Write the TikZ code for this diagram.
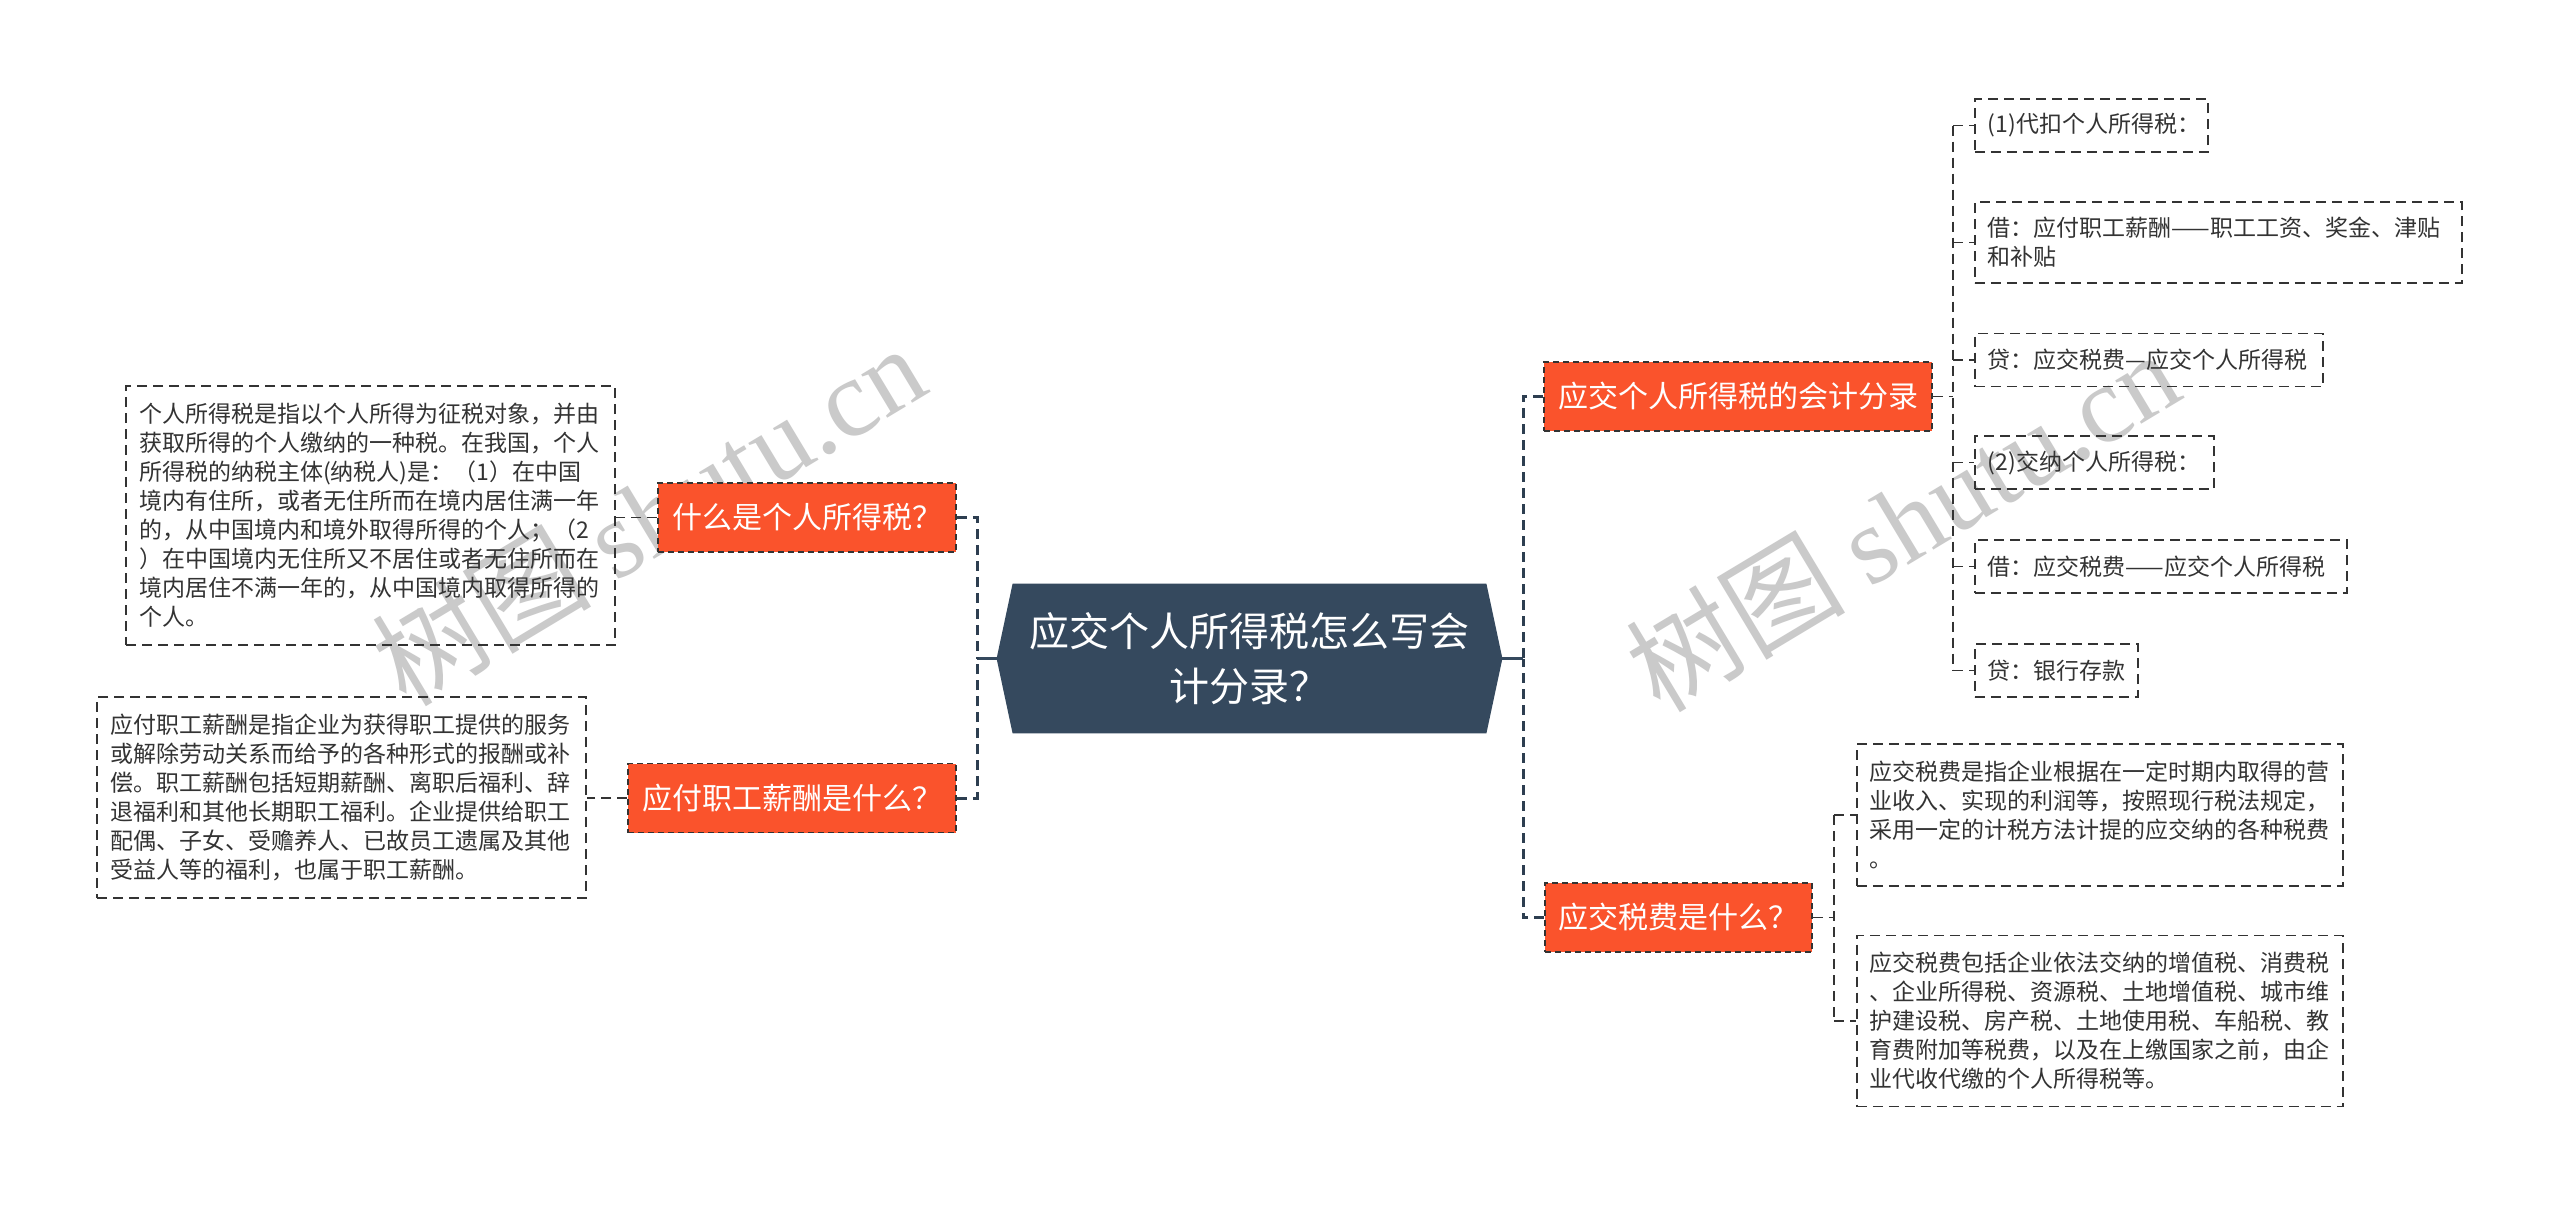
\documentclass[tikz,border=0pt]{standalone}
\usepackage{fontspec}
\setmainfont{Noto Sans CJK SC}
\newfontfamily\wmlatin{Liberation Serif}
\usetikzlibrary{backgrounds}
\definecolor{slate}{RGB}{53,73,94}
\definecolor{orangebox}{RGB}{250,83,44}
\definecolor{ink}{RGB}{51,51,51}
\definecolor{wmgray}{RGB}{202,202,202}
\begin{document}
\begin{tikzpicture}[x=0.5pt,y=-0.5pt,
  leaf/.style={draw=ink, line width=0.9pt, dash pattern=on 5pt off 3pt, text=ink,
    font=\fontsize{11.5pt}{14.5pt}\selectfont, align=left, inner xsep=6.5pt, inner ysep=0pt},
  topic/.style={fill=orangebox, draw=ink, line width=0.9pt, dash pattern=on 3pt off 2pt,
    text=white, font=\fontsize{15pt}{18pt}\selectfont, inner sep=0pt, minimum height=34.5pt},
  rootnode/.style={text=white, font=\fontsize{20pt}{27.5pt}\selectfont, align=center,
    inner sep=0pt, minimum width=252.5pt, minimum height=74.5pt},
  mainline/.style={draw=slate, line width=1.5pt},
  mainbr/.style={draw=slate!85!black, line width=1.5pt, dash pattern=on 5pt off 3pt},
  leafbr/.style={draw=ink, line width=0.9pt, dash pattern=on 5pt off 3pt},
  wmark/.style={text=wmgray, font=\fontsize{55pt}{62pt}\selectfont, rotate=31, inner sep=0pt}
]
\useasboundingbox (0,0) rectangle (2560,1207);

% root
\node[rootnode] (root) at (1249.5,658.5) {应交个人所得税怎么写会\\计分录？};

% level 1
\node[topic, minimum width=149pt] (N1) at (807,517.5) {什么是个人所得税？};
\node[topic, minimum width=164pt] (N2) at (792,798) {应付职工薪酬是什么？};
\node[topic, minimum width=194pt] (NA) at (1738,396.5) {应交个人所得税的会计分录};
\node[topic, minimum width=133.5pt] (NB) at (1678.5,917.5) {应交税费是什么？};

% left leaves
\node[leaf, anchor=east, text width=231.5pt, minimum height=129.5pt] (L1) at (616,515.5)
{个人所得税是指以个人所得为征税对象，并由\\获取所得的个人缴纳的一种税。在我国，个人\\所得税的纳税主体(纳税人)是：（1）在中国\\境内有住所，或者无住所而在境内居住满一年\\的，从中国境内和境外取得所得的个人；（2\\）在中国境内无住所又不居住或者无住所而在\\境内居住不满一年的，从中国境内取得所得的\\个人。};
\node[leaf, anchor=east, text width=231.5pt, minimum height=100.5pt] (L2) at (587,797.5)
{应付职工薪酬是指企业为获得职工提供的服务\\或解除劳动关系而给予的各种形式的报酬或补\\偿。职工薪酬包括短期薪酬、离职后福利、辞\\退福利和其他长期职工福利。企业提供给职工\\配偶、子女、受赡养人、已故员工遗属及其他\\受益人等的福利，也属于职工薪酬。};

% right leaves of NA
\node[leaf, anchor=west, text width=103.5pt, minimum height=26.5pt] (A1) at (1974,125.5) {(1)代扣个人所得税：};
\node[leaf, anchor=west, text width=230.5pt, minimum height=40.5pt] (A2) at (1974,242.5) {借：应付职工薪酬——职工工资、奖金、津贴\\和补贴};
\node[leaf, anchor=west, text width=161pt, minimum height=26.5pt] (A3) at (1974,360) {贷：应交税费—应交个人所得税};
\node[leaf, anchor=west, text width=106.5pt, minimum height=26.5pt] (A4) at (1974,462.5) {(2)交纳个人所得税：};
\node[leaf, anchor=west, text width=173pt, minimum height=26.5pt] (A5) at (1974,566.5) {借：应交税费——应交个人所得税};
\node[leaf, anchor=west, text width=68.5pt, minimum height=26.5pt] (A6) at (1974,670.5) {贷：银行存款};

% right leaves of NB
\node[leaf, anchor=west, text width=230pt, minimum height=71pt] (B1) at (1856,815)
{应交税费是指企业根据在一定时期内取得的营\\业收入、实现的利润等，按照现行税法规定，\\采用一定的计税方法计提的应交纳的各种税费\\。};
\node[leaf, anchor=west, text width=230pt, minimum height=85.5pt] (B2) at (1856,1021)
{应交税费包括企业依法交纳的增值税、消费税\\、企业所得税、资源税、土地增值税、城市维\\护建设税、房产税、土地使用税、车船税、教\\育费附加等税费，以及在上缴国家之前，由企\\业代收代缴的个人所得税等。};

% bracket coordinates
\coordinate (lbr) at (977,658.5);
\coordinate (rbr) at (1523,658.5);
\coordinate (abr) at (1953,396.5);
\coordinate (bbr) at (1834,917.5);

% main connectors
\draw[mainline] (root.west) -- (lbr);
\draw[mainline] (root.east) -- (rbr);
\draw[mainbr] (N1.east) -| (lbr);
\draw[mainbr] (N2.east) -| (lbr);
\draw[mainbr] (NA.west) -| (rbr);
\draw[mainbr] (NB.west) -| (rbr);

% left leaf connectors
\draw[leafbr] (N1.west) -- (N1.west -| L1.east);
\draw[leafbr] (N2.west) -- (N2.west -| L2.east);

% NA leaves
\draw[leafbr] (NA.east) -- (abr);
\draw[leafbr] (abr |- A1.west) -- (abr |- A6.west);
\foreach \n in {A1,A2,A3,A4,A5,A6} { \draw[leafbr] (abr |- \n.west) -- (\n.west); }

% NB leaves
\draw[leafbr] (NB.east) -- (bbr);
\draw[leafbr] (bbr |- B1.west) -- (bbr |- B2.west);
\draw[leafbr] (bbr |- B1.west) -- (B1.west);
\draw[leafbr] (bbr |- B2.west) -- (B2.west);

\begin{scope}[on background layer]
  \fill[white] (0,0) rectangle (2560,1207);
  \node[wmark] (wm1) at (648,514) {树图 {\wmlatin shutu.cn}};
  \node[wmark] (wm2) at (1902,520) {树图 {\wmlatin shutu.cn}};
  \fill[slate] (root.west) -- ([xshift=8pt]root.north west) -- ([xshift=-8pt]root.north east)
    -- (root.east) -- ([xshift=-8pt]root.south east) -- ([xshift=8pt]root.south west) -- cycle;
\end{scope}
\end{tikzpicture}
\end{document}
